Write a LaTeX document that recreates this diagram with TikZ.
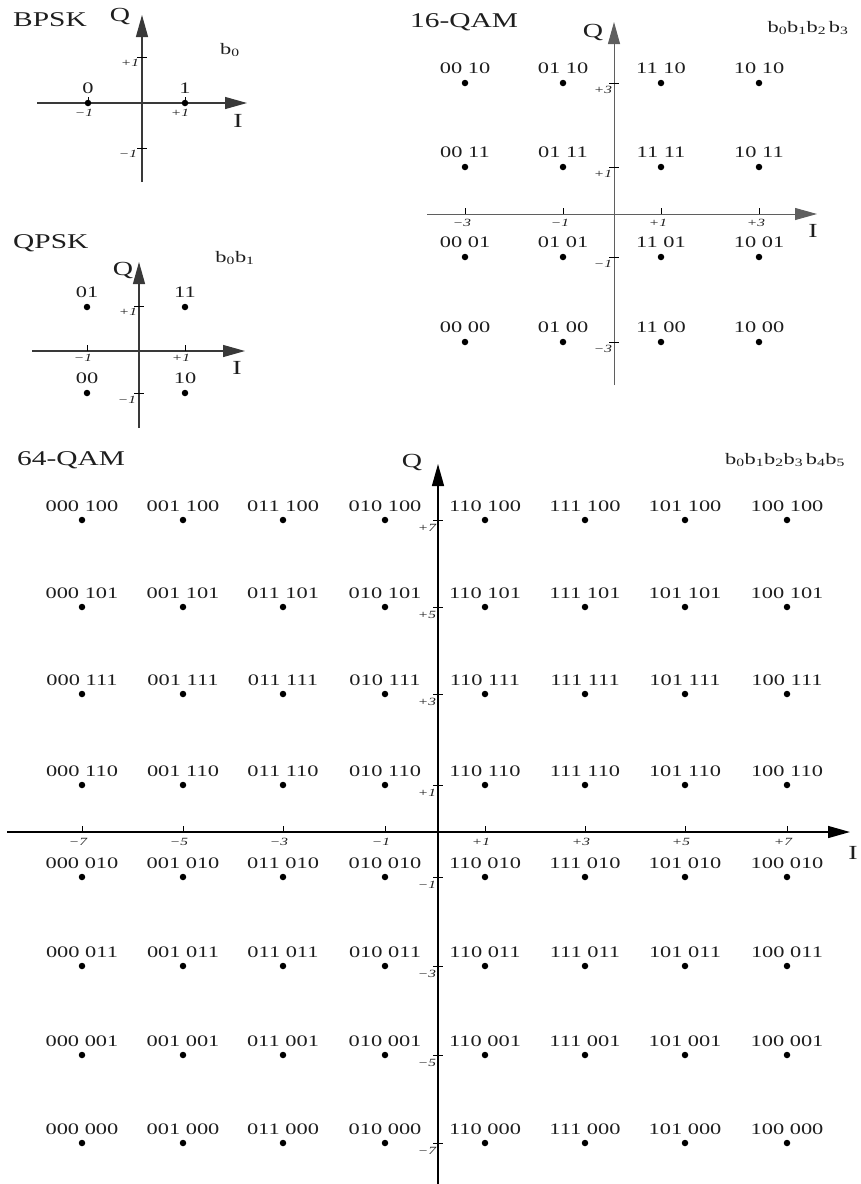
\documentclass[tikz,border=0pt]{standalone}
\usepackage{fontspec}
\setmainfont{Liberation Serif}[FakeStretch=1.4]
\usepackage{xcolor}
\definecolor{axgray}{RGB}{95,95,95}
\definecolor{txtdark}{RGB}{30,30,30}
\usepackage{tikz}
\usetikzlibrary{arrows.meta, positioning}

\begin{document}
\begin{tikzpicture}[x=1pt, y=-1pt,
  axis/.style={line width=1.2pt, -{Triangle[length=22pt,width=12pt]}},
  dot/.style={circle, fill=black, inner sep=0pt, minimum size=6.5pt},
  lbl/.style={font=\fontsize{16}{18}\selectfont, text=txtdark, inner sep=0pt},
  ttl/.style={font=\fontsize{21}{23}\selectfont, text=txtdark, inner sep=0pt},
  axlbl/.style={font=\fontsize{20}{22}\selectfont, text=txtdark, inner sep=0pt},
  tk/.style={line width=0.7pt},
  tklbl/.style={font=\fontsize{11}{13}\selectfont\itshape, text=txtdark, inner sep=0pt}]

\useasboundingbox (0,0) rectangle (860,1184);

% --- BPSK ---
\node[ttl, anchor=west] (bpsk) at (13,20) {BPSK};
\coordinate (bq0) at (142,182);
\coordinate (bq1) at (142,15);
\coordinate (bi0) at (37,103);
\coordinate (bi1) at (247,103);
\draw[axis, axgray!60!black] (bq0) -- (bq1);
\draw[axis, axgray!60!black] (bi0) -- (bi1);
\node[axlbl] (bqlab) at (120,16) {Q};
\node[axlbl] (bilab) at (238,121) {I};
\node[lbl] (bbits) at (230,50) {b\textsubscript{0}};
\draw[tk] (137,57) -- (147,57);
\draw[tk] (137,148) -- (147,148);
\node[tklbl] (bt1) at (130,63) {+1};
\node[tklbl] (bt2) at (128,154) {−1};
\draw[tk] (88,97) -- (88,103);
\draw[tk] (185,97) -- (185,103);
\node[tklbl] (bt3) at (84,113) {−1};
\node[tklbl] (bt4) at (180,113) {+1};
\node[dot] (b0) at (88,103) {};
\node[dot] (b1) at (185,103) {};
\node[lbl, above=6pt of b0] (b0t) {0};
\node[lbl, above=6pt of b1] (b1t) {1};

% --- QPSK ---
\node[ttl, anchor=west] (qpsk) at (13,243) {QPSK};
\coordinate (qq0) at (139,428);
\coordinate (qq1) at (139,262);
\coordinate (qi0) at (32,351);
\coordinate (qi1) at (245,351);
\draw[axis, axgray!60!black] (qq0) -- (qq1);
\draw[axis, axgray!60!black] (qi0) -- (qi1);
\node[axlbl] (qqlab) at (123,270) {Q};
\node[axlbl] (qilab) at (237,368) {I};
\node[lbl] (qbits) at (235,258) {b\textsubscript{0}b\textsubscript{1}};
\draw[tk] (134,306) -- (144,306);
\draw[tk] (134,393) -- (144,393);
\node[tklbl] (qt1) at (128,312) {+1};
\node[tklbl] (qt2) at (127,400) {−1};
\draw[tk] (87,345) -- (87,351);
\draw[tk] (185,345) -- (185,351);
\node[tklbl] (qt3) at (83,358) {−1};
\node[tklbl] (qt4) at (181,358) {+1};
\node[dot] (q01) at (87,307) {};
\node[dot] (q11) at (185,307) {};
\node[dot] (q00) at (87,393) {};
\node[dot] (q10) at (185,393) {};
\node[lbl, above=6pt of q01] (q01t) {01};
\node[lbl, above=6pt of q11] (q11t) {11};
\node[lbl, above=6pt of q00] (q00t) {00};
\node[lbl, above=6pt of q10] (q10t) {10};

% --- 16-QAM ---
\node[ttl, anchor=west] (qam16) at (410,22) {16-QAM};
\coordinate (mq0) at (614,385);
\coordinate (mq1) at (614,22);
\coordinate (mi0) at (427,214);
\coordinate (mi1) at (817,214);
\draw[axis, axgray, line width=1pt] (mq0) -- (mq1);
\draw[axis, axgray, line width=1pt] (mi0) -- (mi1);
\node[axlbl] (mqlab) at (593,32) {Q};
\node[axlbl] (milab) at (813,231) {I};
\node[lbl] (mbits) at (808,28) {b\textsubscript{0}b\textsubscript{1}b\textsubscript{2}\,b\textsubscript{3}};
\foreach \y/\v in {83/+3, 167/+1, 257/−1, 342/−3} {
  \draw[tk] (609,\y) -- (619,\y);
  \node[tklbl] (mt\y) at (603,\y+7) {\v};
}
\foreach \x/\v in {465/−3, 563/−1, 661/+1, 759/+3} {
  \draw[tk] (\x,208) -- (\x,214);
  \node[tklbl] (mu\x) at (\x-3,223) {\v};
}
\foreach \c/\x in {00/465, 01/563, 11/661, 10/759} {
  \foreach \r/\y in {10/83, 11/167, 01/257, 00/342} {
    \node[dot] (m\c\r) at (\x,\y) {};
    \node[lbl, above=6pt of m\c\r] (m\c\r t) {\c{} \r};
  }
}

% --- 64-QAM ---
\node[ttl, anchor=west] (qam64) at (17,460) {64-QAM};
\coordinate (sq0) at (438,1184);
\coordinate (sq1) at (438,464);
\coordinate (si0) at (7,832);
\coordinate (si1) at (850,832);
\draw[axis, line width=1.4pt] (sq0) -- (sq1);
\draw[axis, line width=1.4pt] (si0) -- (si1);
\node[axlbl] (sqlab) at (412,462) {Q};
\node[axlbl] (silab) at (853,853) {I};
\node[lbl] (sbits) at (785,460) {b\textsubscript{0}b\textsubscript{1}b\textsubscript{2}b\textsubscript{3}\,b\textsubscript{4}b\textsubscript{5}};
\foreach \y/\v in {520/+7, 607/+5, 694/+3, 785/+1, 877/−1, 966/−3, 1055/−5, 1143/−7} {
  \draw[tk] (433,\y) -- (443,\y);
  \node[tklbl] (st\y) at (427,\y+8) {\v};
}
\foreach \x/\v in {82/−7, 183/−5, 283/−3, 385/−1, 485/+1, 585/+3, 685/+5, 787/+7} {
  \draw[tk] (\x,826) -- (\x,832);
  \node[tklbl] (su\x) at (\x-4,842) {\v};
}
\foreach \c/\x in {000/82, 001/183, 011/283, 010/385, 110/485, 111/585, 101/685, 100/787} {
  \foreach \r/\y in {100/520, 101/607, 111/694, 110/785, 010/877, 011/966, 001/1055, 000/1143} {
    \node[dot] (s\c\r) at (\x,\y) {};
    \node[lbl, above=5pt of s\c\r] (s\c\r t) {\c{} \r};
  }
}

\end{tikzpicture}
\end{document}
